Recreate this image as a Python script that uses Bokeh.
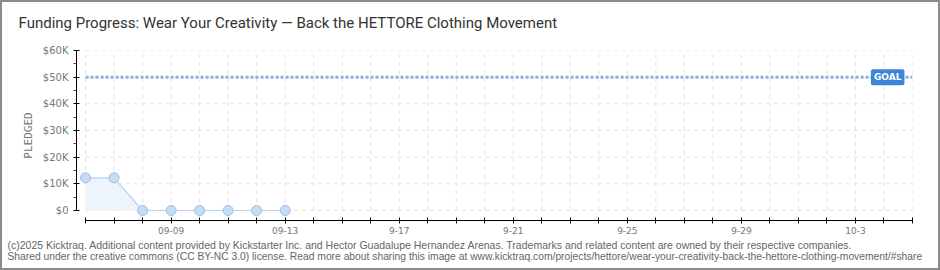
from datetime import date
from bokeh.plotting import figure
from bokeh.layouts import column
from bokeh.models import Range1d, FixedTicker, Title, Label
from bokeh.embed import file_html
from bokeh.resources import INLINE

# ---- data ----
axis_start = "2025-09-06"
axis_end = "2025-10-05"
point_dates = ["2025-09-06", "2025-09-07", "2025-09-08", "2025-09-09",
               "2025-09-10", "2025-09-11", "2025-09-12", "2025-09-13"]
pledged = [12250, 12250, 0, 0, 0, 0, 0, 0]
goal = 50000
y_ticks = [0, 10000, 20000, 30000, 40000, 50000, 60000]
y_tick_labels = ["$0", "$10K", "$20K", "$30K", "$40K", "$50K", "$60K"]
y_minor_ticks = [5000, 15000, 25000, 35000, 45000, 55000]
x_label_dates = ["2025-09-09", "2025-09-13", "2025-09-17", "2025-09-21",
                 "2025-09-25", "2025-09-29", "2025-10-03"]
x_label_texts = ["09-09", "09-13", "9-17", "9-21", "9-25", "9-29", "10-3"]
title_text = "Funding Progress: Wear Your Creativity \u2014 Back the HETTORE Clothing Movement"
footer_1 = ("(c)2025 Kicktraq. Additional content provided by Kickstarter Inc. and Hector Guadalupe "
            "Hernandez Arenas. Trademarks and related content are owned by their respective companies.")
footer_2 = ("Shared under the creative commons (CC BY-NC 3.0) license. Read more about sharing this image at "
            "www.kicktraq.com/projects/hettore/wear-your-creativity-back-the-hettore-clothing-movement/#share")


def day_index(s):
    return (date.fromisoformat(s) - date.fromisoformat(axis_start)).days


n_days = day_index(axis_end)
x_ticks = list(range(0, n_days + 1))
px = [day_index(d) for d in point_dates]
label_days = [day_index(d) for d in x_label_dates]

p = figure(width=936, height=266, output_backend="svg", toolbar_location=None,
           x_range=Range1d(-0.317, n_days), y_range=Range1d(-3750, y_ticks[-1]),
           min_border_left=74, min_border_right=26, min_border_top=48, min_border_bottom=48,
           background_fill_color="white", border_fill_color="white")
p.outline_line_color = None
p.grid.visible = False

# title (a thin spacer title sits between the frame and the main title)
p.add_layout(Title(text=" ", text_font_size="1px", standoff=16), "above")
p.title.text = title_text
p.title.align = "left"
p.title.offset = -58
p.title.standoff = 0
p.title.text_font = "Roboto"
p.title.text_font_size = "15px"
p.title.text_font_style = "normal"
p.title.text_color = "#333333"

# grid (dashed, bounded to the axes' extent)
p.segment(x0=x_ticks, y0=y_ticks[0], x1=x_ticks, y1=y_ticks[-1],
          line_color="#e2e2e2", line_width=1, line_dash="4 4")
p.segment(x0=x_ticks[0], y0=y_ticks, x1=x_ticks[-1], y1=y_ticks,
          line_color="#e2e2e2", line_width=1, line_dash="4 4")

# goal line
p.line([x_ticks[0], x_ticks[-1]], [goal, goal], line_color="#8eb0dc", line_width=3, line_dash="3 2")
p.add_layout(Label(x=x_ticks[-1] - 0.87, y=goal, text="GOAL", text_align="center", text_baseline="middle",
                   text_color="white", text_font="DejaVu Sans", text_font_size="9px", text_font_style="bold",
                   background_fill_color="#3b87d6", padding=3, border_radius=2))

# pledged series
p.varea(x=px, y1=0, y2=pledged, fill_color="#edf4fc", fill_alpha=1)
p.line(px, pledged, line_color="#b7d2f0", line_width=1.2)
p.scatter(px, pledged, size=10, fill_color="#c6ddf6", line_color="#9dbce2", line_width=1)

# axes
xa = p.xaxis[0]
xa.ticker = FixedTicker(ticks=x_ticks, minor_ticks=[])
overrides = {d: "" for d in x_ticks}
overrides.update(dict(zip(label_days, x_label_texts)))
xa.major_label_overrides = overrides
xa.bounds = (x_ticks[0], x_ticks[-1])
xa.axis_line_color = "black"
xa.major_tick_line_color = "black"
xa.major_tick_in = 3
xa.major_tick_out = 3
xa.major_label_standoff = 3
xa.major_label_text_font = "DejaVu Sans"
xa.major_label_text_font_size = "9px"
xa.major_label_text_color = "#777777"

ya = p.yaxis[0]
ya.ticker = FixedTicker(ticks=y_ticks, minor_ticks=y_minor_ticks)
ya.major_label_overrides = dict(zip(y_ticks, y_tick_labels))
ya.bounds = (y_ticks[0], y_ticks[-1])
ya.axis_line_color = "black"
ya.major_tick_line_color = "black"
ya.major_tick_in = 3
ya.major_tick_out = 3
ya.minor_tick_line_color = "#e00000"
ya.minor_tick_in = 0
ya.minor_tick_out = 3
ya.major_label_text_font = "DejaVu Sans"
ya.major_label_text_font_size = "10px"
ya.major_label_text_color = "#777777"
ya.axis_label = "PLEDGED"
ya.axis_label_text_font = "DejaVu Sans Mono"
ya.axis_label_text_font_size = "11px"
ya.axis_label_text_font_style = "normal"
ya.axis_label_text_color = "#777777"
ya.axis_label_standoff = 5

# footers
for txt, so, fs in ((footer_1, 0, "10.5px"), (footer_2, -3, "10.3px")):
    p.add_layout(Title(text=txt, align="left", offset=-69, text_font="Liberation Sans",
                       text_font_size=fs, text_font_style="normal", text_color="#666666",
                       standoff=so), "below")

root = column(p, styles={"border": "2px solid #8c8c8c"})
open("out.html", "w").write(file_html(root, INLINE))
